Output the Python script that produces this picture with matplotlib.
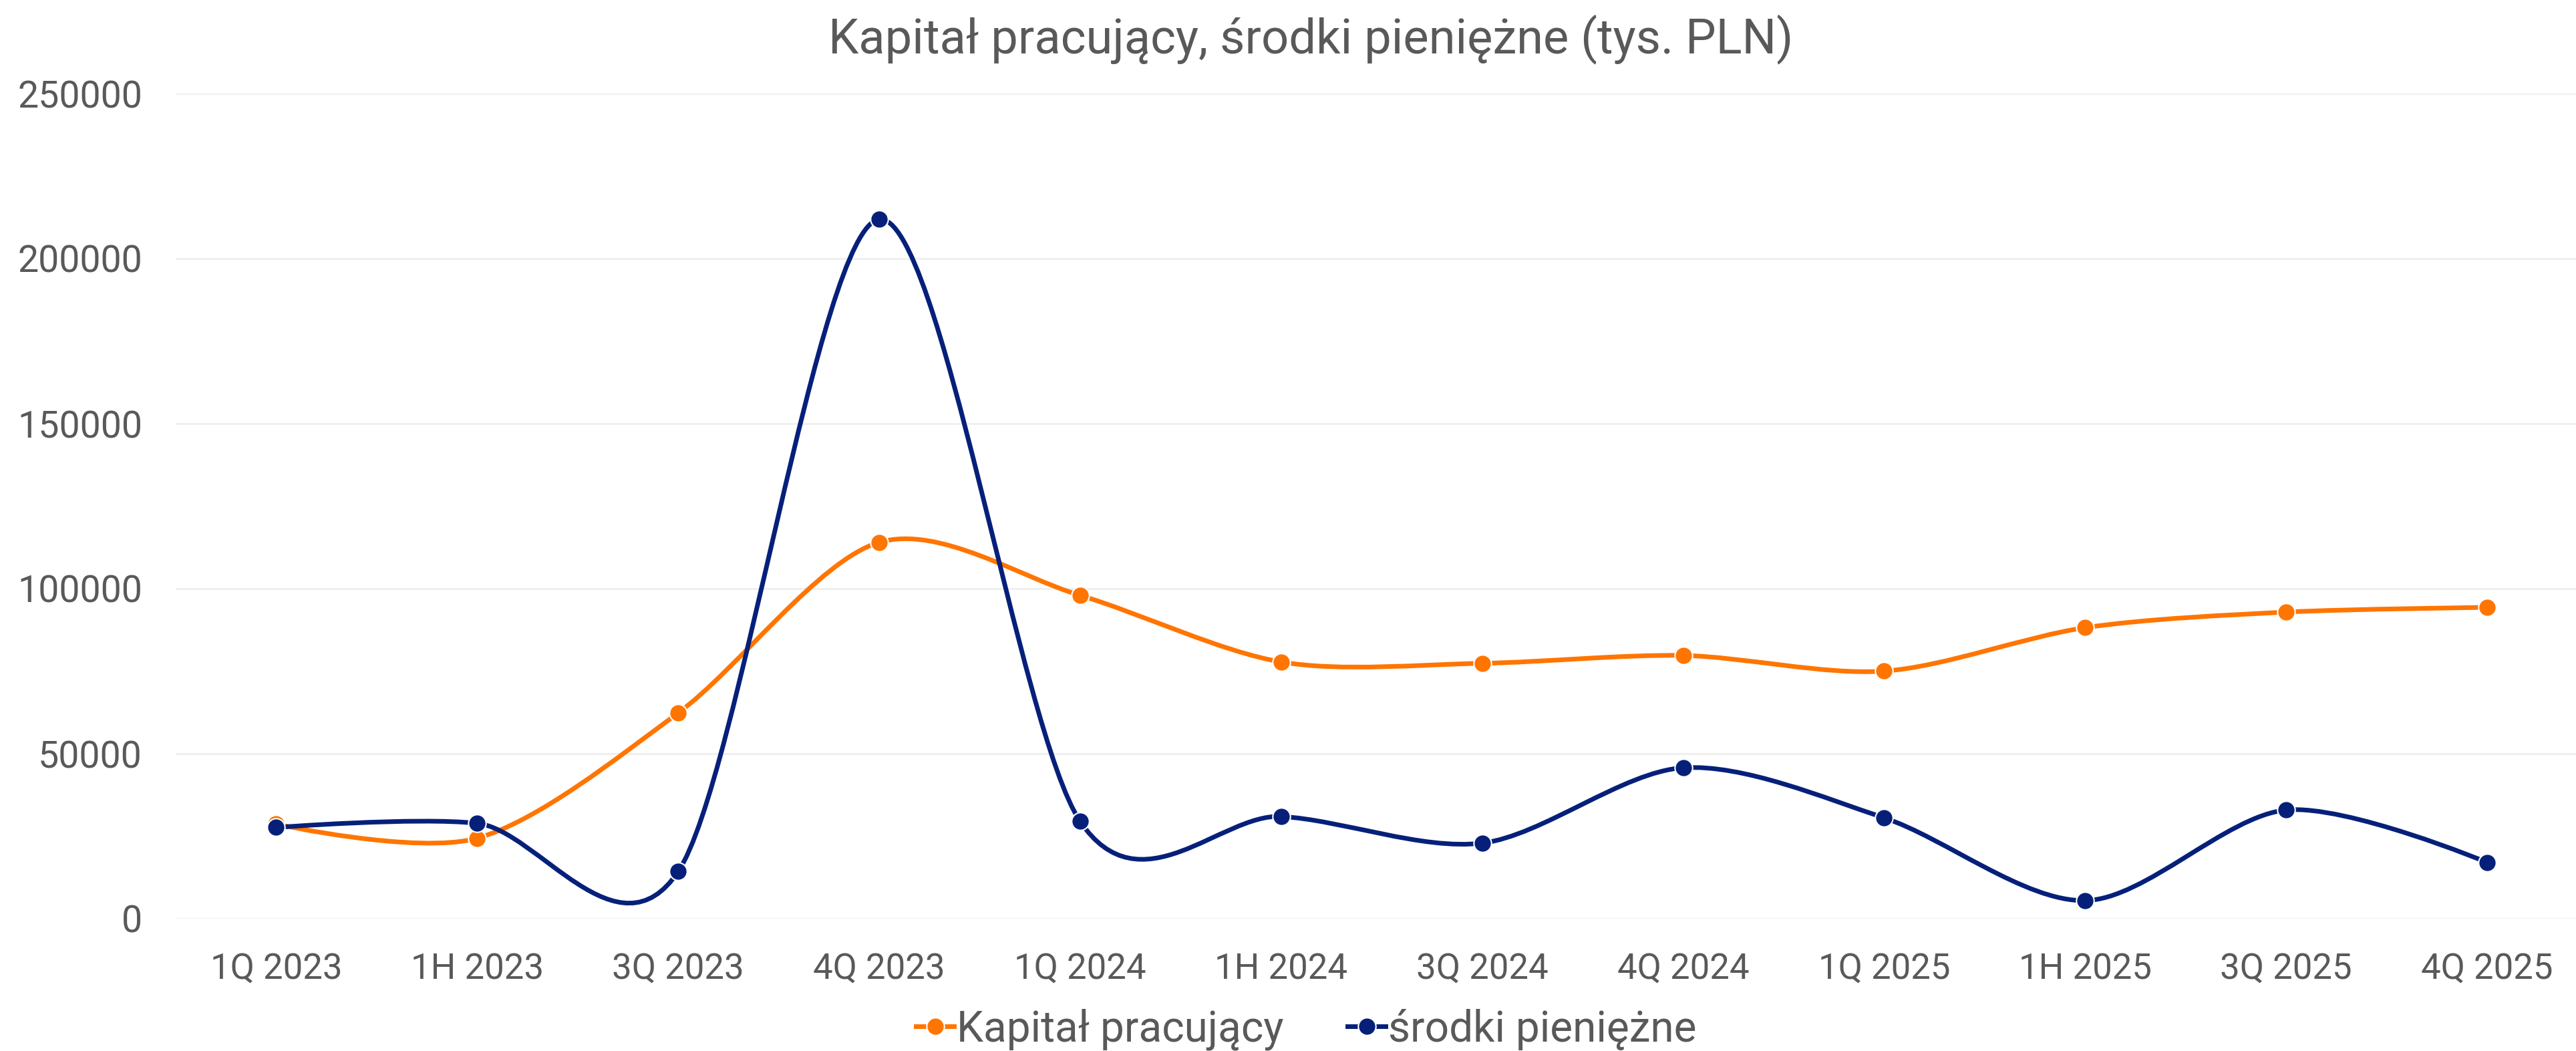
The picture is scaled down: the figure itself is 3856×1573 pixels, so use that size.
import numpy as np
import matplotlib
matplotlib.use("Agg")
import matplotlib.pyplot as plt
from matplotlib.path import Path
from matplotlib.patches import PathPatch
from matplotlib.lines import Line2D

plt.rcParams["font.family"] = ["Roboto", "DejaVu Sans"]

# ---- data ----
periods = ["1Q 2023", "1H 2023", "3Q 2023", "4Q 2023", "1Q 2024", "1H 2024",
           "3Q 2024", "4Q 2024", "1Q 2025", "1H 2025", "3Q 2025", "4Q 2025"]
kapital = [28660, 24390, 62340, 114030, 97960, 77790,
           77380, 79750, 75020, 88180, 92900, 94320]
srodki = [27640, 28900, 14300, 211900, 29470, 30960,
          22900, 45730, 30560, 5490, 32930, 17070]

ORANGE = "#FF7500"
NAVY = "#06207A"
TEXT = "#595959"
GRID = "#EFEFEF"


def smooth_path(xs, ys, tension=0.15):
    # excel-like smoothed line: cubic bezier through every point
    xs = np.asarray(xs, float)
    ys = np.asarray(ys, float)
    n = len(xs)
    verts = [(xs[0], ys[0])]
    codes = [Path.MOVETO]
    for i in range(n - 1):
        if i == 0:
            c1 = (xs[0], ys[0])
        else:
            c1 = (xs[i] + tension * (xs[i + 1] - xs[i - 1]),
                  ys[i] + tension * (ys[i + 1] - ys[i - 1]))
        if i + 1 == n - 1:
            c2 = (xs[i + 1], ys[i + 1])
        else:
            c2 = (xs[i + 1] - tension * (xs[i + 2] - xs[i]),
                  ys[i + 1] - tension * (ys[i + 2] - ys[i]))
        verts += [c1, c2, (xs[i + 1], ys[i + 1])]
        codes += [Path.CURVE4] * 3
    return Path(verts, codes)


fig = plt.figure(figsize=(38.56, 15.73), dpi=100)
ax = fig.add_axes([263 / 3856, 198 / 1573, (3856 - 263) / 3856, (1375 - 140) / 1573])

x = np.arange(len(periods))
for vals, col, lab, z in [(kapital, ORANGE, "Kapitał pracujący", 2),
                          (srodki, NAVY, "środki pieniężne", 3)]:
    ax.add_patch(PathPatch(smooth_path(x, vals), facecolor="none", edgecolor=col,
                           lw=5, zorder=z, clip_on=False, capstyle="round"))
    ax.plot(x, vals, "o", color=col, ms=19, mec="white", mew=1.5,
            zorder=z + 0.5, clip_on=False)

ax.set_xlim(-0.5, 11.442)
ax.set_ylim(0, 250000)
ax.set_xticks(x)
ax.set_xticklabels(periods)
ax.set_yticks(np.arange(0, 250001, 50000))
ax.tick_params(axis="both", length=0, colors=TEXT)
ax.tick_params(axis="x", labelsize=38, pad=36)
ax.tick_params(axis="y", labelsize=40, pad=36)
ax.grid(axis="y", color=GRID, lw=2)
ax.set_axisbelow(True)
for s in ax.spines.values():
    s.set_visible(False)

fig.text(1962 / 3856, 1 - 79 / 1573, "Kapitał pracujący, środki pieniężne (tys. PLN)",
         ha="center", va="baseline", fontsize=52, color=TEXT)

handles = [Line2D([], [], color=ORANGE, lw=5, marker="o", ms=19, mec="white", mew=1.5),
           Line2D([], [], color=NAVY, lw=5, marker="o", ms=19, mec="white", mew=1.5)]
leg = fig.legend(handles, ["Kapitał pracujący", "środki pieniężne"], loc="center",
                 bbox_to_anchor=(1955 / 3856, 1 - 1541 / 1573), ncol=2, frameon=False,
                 fontsize=46, handlelength=0.9, handletextpad=0.05, columnspacing=1.5,
                 borderaxespad=0)
for t in leg.get_texts():
    t.set_color(TEXT)

fig.savefig("out.png", dpi=100, facecolor="white")
